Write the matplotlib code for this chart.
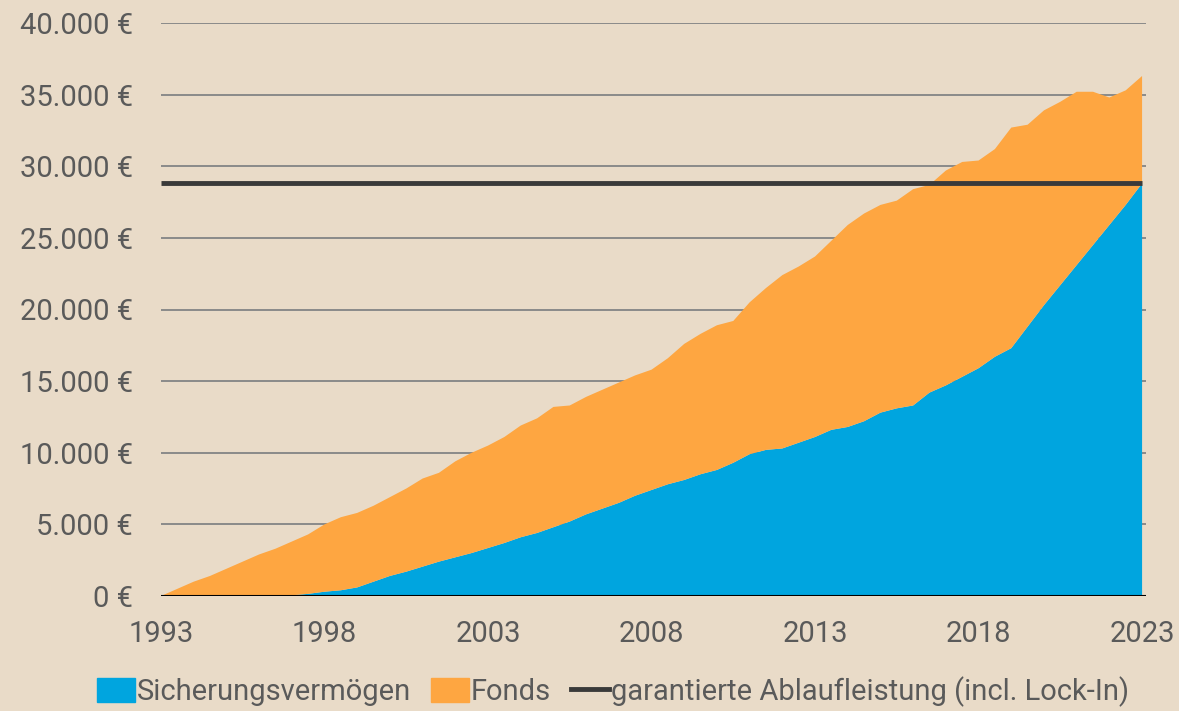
import matplotlib
matplotlib.use("Agg")
import matplotlib.pyplot as plt
from matplotlib.ticker import FuncFormatter
from matplotlib.patches import Patch
from matplotlib.lines import Line2D

years = [1993.0 + 0.5 * i for i in range(61)]
total = [0, 500, 1000, 1400, 1900, 2400, 2900, 3300, 3800, 4300,
         5000, 5500, 5800, 6300, 6900, 7500, 8200, 8600, 9400, 10000,
         10500, 11100, 11900, 12400, 13200, 13300, 13900, 14400, 14900, 15400,
         15800, 16600, 17600, 18300, 18900, 19200, 20500, 21500, 22400, 23000,
         23700, 24800, 25900, 26700, 27300, 27600, 28400, 28700, 29700, 30300,
         30400, 31200, 32700, 32900, 33900, 34500, 35200, 35200, 34800, 35300,
         36300]
sicherung = [0, 0, 0, 0, 0, 0, 0, 0, 50, 150,
             300, 400, 600, 1000, 1400, 1700, 2050, 2400, 2700, 3000,
             3350, 3700, 4100, 4400, 4800, 5200, 5700, 6100, 6500, 7000,
             7400, 7800, 8100, 8500, 8800, 9300, 9900, 10200, 10300, 10700,
             11100, 11600, 11800, 12200, 12800, 13100, 13300, 14200, 14700, 15300,
             15900, 16700, 17300, 18800, 20300, 21700, 23100, 24500, 25900, 27300,
             28800]
fonds = [t - s for t, s in zip(total, sicherung)]
garantie = 28800
xticks = [1993, 1998, 2003, 2008, 2013, 2018, 2023]

BG = "#E9DBC8"
BLUE = "#00A5DF"
ORANGE = "#FEA641"
TXT = "#5A5A5A"

plt.rcParams["font.family"] = ["Roboto", "DejaVu Sans"]

fig = plt.figure(figsize=(11.79, 7.11), dpi=100, facecolor=BG)
ax = fig.add_axes([161 / 1179, 1 - 596 / 711, (1146 - 161) / 1179, (596 - 23) / 711])
ax.set_facecolor(BG)

ax.set_ylim(0, 40000)
ax.set_xlim(1993, 2023.12)
ax.set_yticks(range(0, 40001, 5000))
ax.grid(axis="y", color="#8a8a8a", lw=1.4, zorder=0)
ax.set_axisbelow(True)

ax.stackplot(years, sicherung, fonds, colors=[BLUE, ORANGE], lw=0, zorder=2)
ax.hlines(garantie, years[0], years[-1], color="#3a3a3a", lw=3.5, zorder=3)
ax.axhline(0, color="black", lw=1.5, zorder=4)

for s in ax.spines.values():
    s.set_visible(False)
ax.yaxis.set_major_formatter(FuncFormatter(lambda v, p: f"{int(v):,} €".replace(",", ".")))
ax.set_xticks(xticks)
ax.tick_params(length=0, labelsize=21, colors=TXT)
ax.tick_params(axis="y", pad=20)
ax.tick_params(axis="x", pad=17)

handles = [Patch(color=BLUE), Patch(color=ORANGE), Line2D([], [], color="#3a3a3a", lw=3.5)]
labels = ["Sicherungsvermögen", "Fonds", "garantierte Ablaufleistung (incl. Lock-In)"]
fig.legend(handles, labels, loc="center", bbox_to_anchor=(0.52, 0.027), ncol=3,
           frameon=False, fontsize=21, labelcolor=TXT, handlelength=1.3,
           handleheight=0.9, handletextpad=0.05, columnspacing=0.7)

fig.savefig("out.png", dpi=100, facecolor=BG)
